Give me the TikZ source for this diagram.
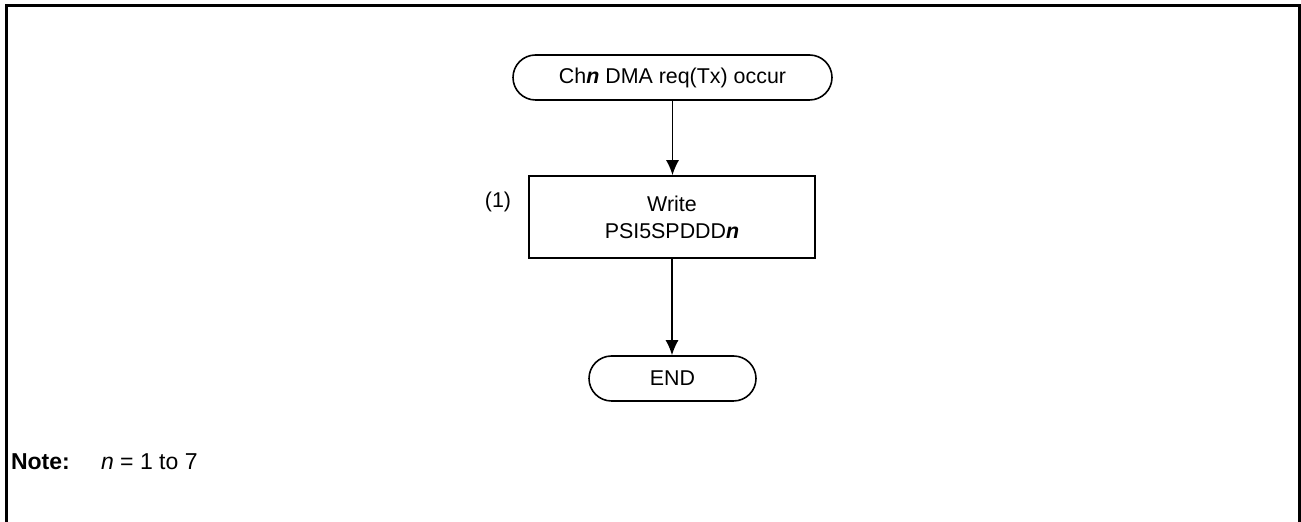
\documentclass[tikz,border=0pt]{standalone}
\usepackage{fontspec}
\setmainfont{Liberation Sans}
\usepackage{tikz}
\usetikzlibrary{arrows.meta,positioning}
\tikzset{
  terminal/.style = {draw, line width=0.8pt, rectangle, rounded corners=11.25pt,
                     minimum height=22.5pt, align=center, inner sep=0pt},
  block/.style    = {draw, line width=0.8pt, rectangle, minimum height=41pt,
                     minimum width=143pt, align=center, inner sep=0pt},
  sig/.style      = {-{Latex[length=7.5pt,width=6.5pt]}, line width=0.75pt},
}

\begin{document}
\begin{tikzpicture}[x=0.5pt,y=-0.5pt,font=\fontsize{10.7}{13.4}\selectfont]
\useasboundingbox (0,0) rectangle (1301,522);
\draw[line width=1.5pt] (6.5,530) -- (6.5,6) -- (1299.5,6) -- (1299.5,530);
\node[terminal,minimum width=159.5pt] (start) at (672.5,77.5) {Ch\textbf{\textit{n}} DMA req(Tx) occur};
\node[block] (wr) at (672,217) {Write\\PSI5SPDDD\textbf{\textit{n}}};
\node (lbl) at (498,202) {(1)};
\node[terminal,minimum width=83.5pt] (fin) at (672.5,378.5) {END};
\draw[sig] (start) -- (start|-wr.north);
\draw[sig] (wr) -- (wr|-fin.north);
\node[anchor=west,font=\fontsize{11.5}{14}\selectfont] (note) at (4,462) {\textbf{Note:}};
\node[anchor=west,font=\fontsize{11.5}{14}\selectfont] (range) at (94,462) {\textit{n} = 1 to 7};
\end{tikzpicture}
\end{document}
